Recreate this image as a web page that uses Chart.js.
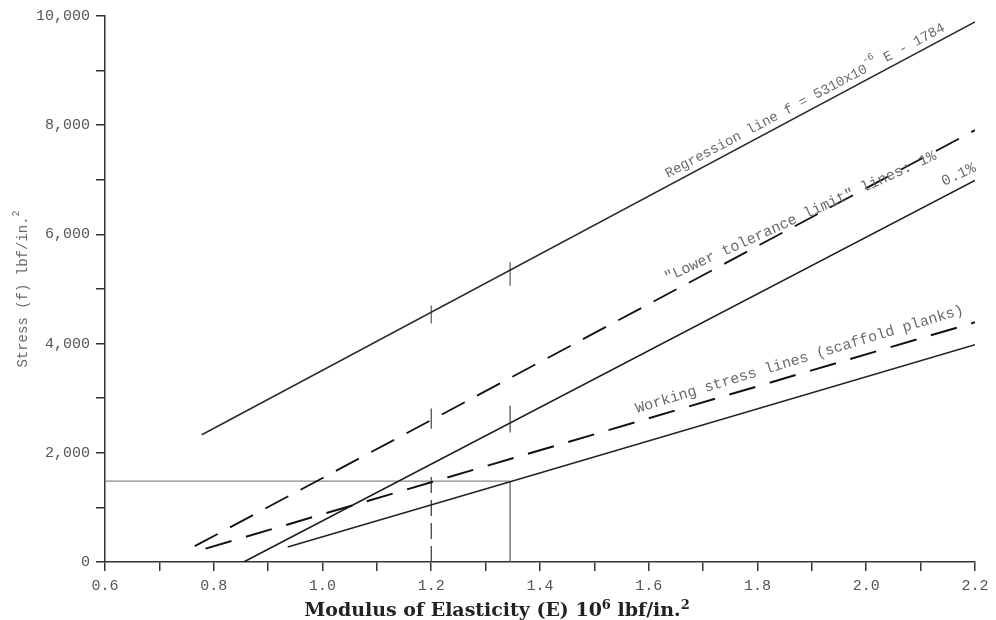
<!DOCTYPE html>
<html><head><meta charset="utf-8">
<script src="https://cdn.jsdelivr.net/npm/chart.js@4/dist/chart.umd.min.js"></script>
<style>html,body{margin:0;padding:0;background:#fff}#wrap{width:996px;height:620px}</style>
</head><body><div id="wrap"><canvas id="c" width="996" height="620"></canvas></div>
<script>
// ---- data (E in 10^6 lbf/in.^2, f in lbf/in.^2) ----
const regressionE = [0.778, 2.2];
const regressionF = [2330, 9890];
const tol1E = [0.765, 2.2];
const tol1F = [290, 7910];
const tol01E = [0.855, 2.2];
const tol01F = [0, 6990];
const workDashE = [0.785, 2.2];
const workDashF = [245, 4390];
const workSolidE = [0.936, 1.345, 2.2];
const workSolidF = [275, 1470, 3980];
const guideHE = [0.6, 1.345];
const guideHF = [1480, 1480];
const guideVE = [1.345, 1.345];
const guideVF = [0, 1480];
const guide12E = [1.2, 1.2];
const guide12F = [0, 1630];
const markRegA = [4700, 4370];   // at E = 1.2
const markRegB = [5490, 5060];   // at E = 1.345
const markTol1 = [2810, 2440];   // at E = 1.2
const markTol01 = [2860, 2370];  // at E = 1.345
const xTicks = [0.6, 0.8, 1.0, 1.2, 1.4, 1.6, 1.8, 2.0, 2.2];
const yTicks = [0, 2000, 4000, 6000, 8000, 10000];

function pts(xs, ys) { return xs.map((x, i) => ({ x: x, y: ys[i] })); }
function ds(data, color, width, dash) {
  return { data: data, borderColor: color, borderWidth: width, borderDash: dash || [],
    pointRadius: 0, fill: false, tension: 0, showLine: true, borderCapStyle: 'butt' };
}

const MONO = '"Liberation Mono", "DejaVu Sans Mono", monospace';
const TXT = '#6a6a6a';

function richWidth(ctx, parts) {
  let total = 0;
  parts.forEach(p => { ctx.font = p.font; total += ctx.measureText(p.t).width; });
  return total;
}
function drawRich(ctx, x, y, angDeg, parts, color, align) {
  ctx.save();
  ctx.translate(x, y);
  ctx.rotate(angDeg * Math.PI / 180);
  ctx.fillStyle = color;
  ctx.textBaseline = 'alphabetic';
  ctx.textAlign = 'left';
  const total = richWidth(ctx, parts);
  let cx = align === 'center' ? -total / 2 : 0;
  parts.forEach(p => {
    ctx.font = p.font;
    ctx.fillText(p.t, cx, p.dy || 0);
    cx += ctx.measureText(p.t).width;
  });
  ctx.restore();
}

const labelsPlugin = {
  id: 'labels',
  afterDraw(chart) {
    const ctx = chart.ctx;
    const f14 = '14px ' + MONO, f15 = '15px ' + MONO, f10 = '10px ' + MONO;
    drawRich(ctx, 668, 178, -28, [
      { t: 'Regression line f = 5310x10', font: f14 },
      { t: '-6', font: f10, dy: -9 },
      { t: ' E - 1784', font: f14 }
    ], TXT);
    drawRich(ctx, 667, 282, -24.5, [
      { t: '"Lower tolerance limit" lines: 1%', font: f15 }
    ], TXT);
    drawRich(ctx, 944, 186, -25, [
      { t: '0.1%', font: f15 }
    ], TXT);
    drawRich(ctx, 637, 413, -16.9, [
      { t: 'Working stress lines (scaffold planks)', font: f15 }
    ], TXT);
    // y axis title
    drawRich(ctx, 27, 289, -90, [
      { t: 'Stress (f) lbf/in.', font: '14px ' + MONO },
      { t: '2', font: '10px ' + MONO, dy: -8 }
    ], TXT, 'center');
    // x axis title, sized to the reference width
    const fam = '"DejaVu Serif", "Liberation Serif", serif';
    const build = (s) => [
      { t: 'Modulus of Elasticity (E) 10', font: 'bold ' + s + 'px ' + fam },
      { t: '6', font: 'bold ' + Math.round(s * 0.68) + 'px ' + fam, dy: -s * 0.38 },
      { t: ' lbf/in.', font: 'bold ' + s + 'px ' + fam },
      { t: '2', font: 'bold ' + Math.round(s * 0.68) + 'px ' + fam, dy: -s * 0.38 }
    ];
    const w18 = richWidth(ctx, build(18));
    const size = Math.max(12, Math.min(24, 18 * 385 / w18));
    drawRich(ctx, 497, 616, 0, build(size), '#222', 'center');
  }
};

new Chart(document.getElementById('c'), {
  type: 'line',
  data: {
    datasets: [
      ds(pts(regressionE, regressionF), '#2a2a2a', 1.5),
      ds(pts(tol1E, tol1F), '#111', 1.8, [26, 14]),
      ds(pts(tol01E, tol01F), '#1a1a1a', 1.6),
      ds(pts(workDashE, workDashF), '#111', 2, [27, 15]),
      ds(pts(workSolidE, workSolidF), '#222', 1.5),
      ds(pts(guideHE, guideHF), '#888', 1.2),
      ds(pts(guideVE, guideVF), '#555', 1.2),
      ds(pts(guide12E, guide12F), '#333', 1.2, [16, 7]),
      ds(pts([1.2, 1.2], markRegA), '#555', 1.2),
      ds(pts([1.345, 1.345], markRegB), '#555', 1.2),
      ds(pts([1.2, 1.2], markTol1), '#444', 1.2),
      ds(pts([1.345, 1.345], markTol01), '#444', 1.2)
    ]
  },
  options: {
    responsive: false,
    animation: false,
    devicePixelRatio: 1,
    layout: { padding: { top: 16, right: 21, left: 0, bottom: 0 } },
    plugins: { legend: { display: false }, tooltip: { enabled: false } },
    scales: {
      x: {
        type: 'linear', min: 0.6, max: 2.2,
        afterFit(s) { s.height = 58; },
        afterBuildTicks(s) {
          const t = [];
          for (let i = 6; i <= 22; i++) t.push({ value: i / 10 });
          s.ticks = t;
        },
        ticks: {
          autoSkip: false, maxRotation: 0, padding: 6,
          font: { family: MONO, size: 15 }, color: '#555',
          callback(v) {
            const r = Math.round(v * 10) / 10;
            return xTicks.some(t => Math.abs(t - r) < 1e-6) ? r.toFixed(1) : '';
          }
        },
        grid: { drawOnChartArea: false, drawTicks: true, tickLength: 9, color: '#333', lineWidth: 1.5 },
        border: { display: true, color: '#333', width: 1.5 }
      },
      y: {
        type: 'linear', min: 0, max: 10000,
        afterFit(s) { s.width = 105; },
        ticks: {
          stepSize: 1000, autoSkip: false, padding: 6,
          font: { family: MONO, size: 15 }, color: '#555',
          callback(v) {
            return yTicks.includes(v) ? v.toLocaleString('en-US') : '';
          }
        },
        grid: { drawOnChartArea: false, drawTicks: true, tickLength: 9, color: '#333', lineWidth: 1.5 },
        border: { display: true, color: '#333', width: 1.5 }
      }
    }
  },
  plugins: [labelsPlugin]
});
</script>
</body></html>
